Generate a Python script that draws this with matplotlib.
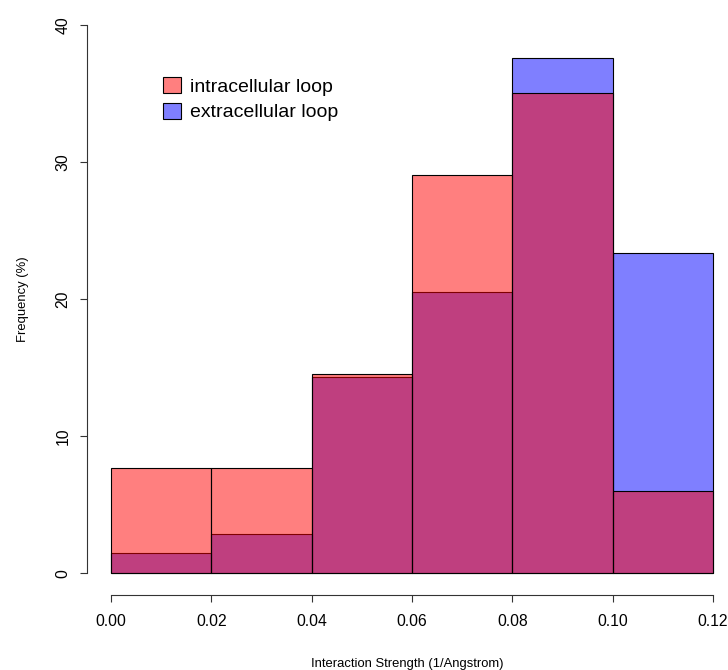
import matplotlib
matplotlib.use("Agg")
import matplotlib.pyplot as plt
from matplotlib.patches import Patch
import numpy as np

# Histogram bins (interaction strength, 1/Angstrom)
bin_edges = [0.00, 0.02, 0.04, 0.06, 0.08, 0.10, 0.12]

# Relative frequencies (%) per bin
intracellular_pct = [7.69, 7.69, 14.53, 29.06, 35.04, 5.98]
extracellular_pct = [1.43, 2.86, 14.29, 20.48, 37.62, 23.33]

series_labels = ["intracellular loop", "extracellular loop"]
x_ticks = [0.00, 0.02, 0.04, 0.06, 0.08, 0.10, 0.12]
x_tick_labels = ["0.00", "0.02", "0.04", "0.06", "0.08", "0.10", "0.12"]
y_ticks = [0, 10, 20, 30, 40]

red_fill = (1.0, 0.0, 0.0, 0.5)
blue_fill = (0.0, 0.0, 1.0, 0.5)

plt.rcParams["font.family"] = ["Liberation Sans", "DejaVu Sans"]

fig = plt.figure(figsize=(7.28, 6.70), dpi=100)
W, H = 728, 670
ax = fig.add_axes([87 / W, (H - 595) / H, 641 / W, 592 / H])

edges = np.array(bin_edges)
widths = np.diff(edges)
ax.bar(edges[:-1], extracellular_pct, width=widths, align="edge",
       color=blue_fill, edgecolor="black", linewidth=0.8)
ax.bar(edges[:-1], intracellular_pct, width=widths, align="edge",
       color=red_fill, edgecolor="black", linewidth=0.8)

ax.set_xlim(-24 / 5016.7, 0.12 + 15 / 5016.7)
ax.set_ylim(-1.6, 41.6)

for side in ("top", "right"):
    ax.spines[side].set_visible(False)
ax.spines["left"].set_bounds(0, 40)
ax.spines["bottom"].set_bounds(0, 0.12)
for side in ("left", "bottom"):
    ax.spines[side].set_linewidth(0.8)
    ax.spines[side].set_color("#333333")

ax.set_xticks(x_ticks)
ax.set_xticklabels(x_tick_labels)
ax.set_yticks(y_ticks)
ax.set_yticklabels([str(v) for v in y_ticks], rotation=90, va="center")
ax.tick_params(axis="both", direction="out", length=5, width=0.8,
               color="#333333", labelsize=11.3, pad=7)
ax.tick_params(axis="x", pad=9)

ax.set_xlabel("Interaction Strength (1/Angstrom)", fontsize=9.4, labelpad=20.5)
ax.set_ylabel("Frequency (%)", fontsize=9.4, labelpad=19)

handles = [Patch(facecolor=red_fill, edgecolor="black", linewidth=0.8),
           Patch(facecolor=blue_fill, edgecolor="black", linewidth=0.8)]
fig.legend(handles, series_labels, loc="upper left",
           bbox_to_anchor=(163 / W, 1 - 77 / H), frameon=False,
           fontsize=14, handlelength=0.9, handleheight=0.9,
           handletextpad=0.5, labelspacing=0.35, borderpad=0,
           borderaxespad=0)

fig.savefig("out.png", dpi=100)
